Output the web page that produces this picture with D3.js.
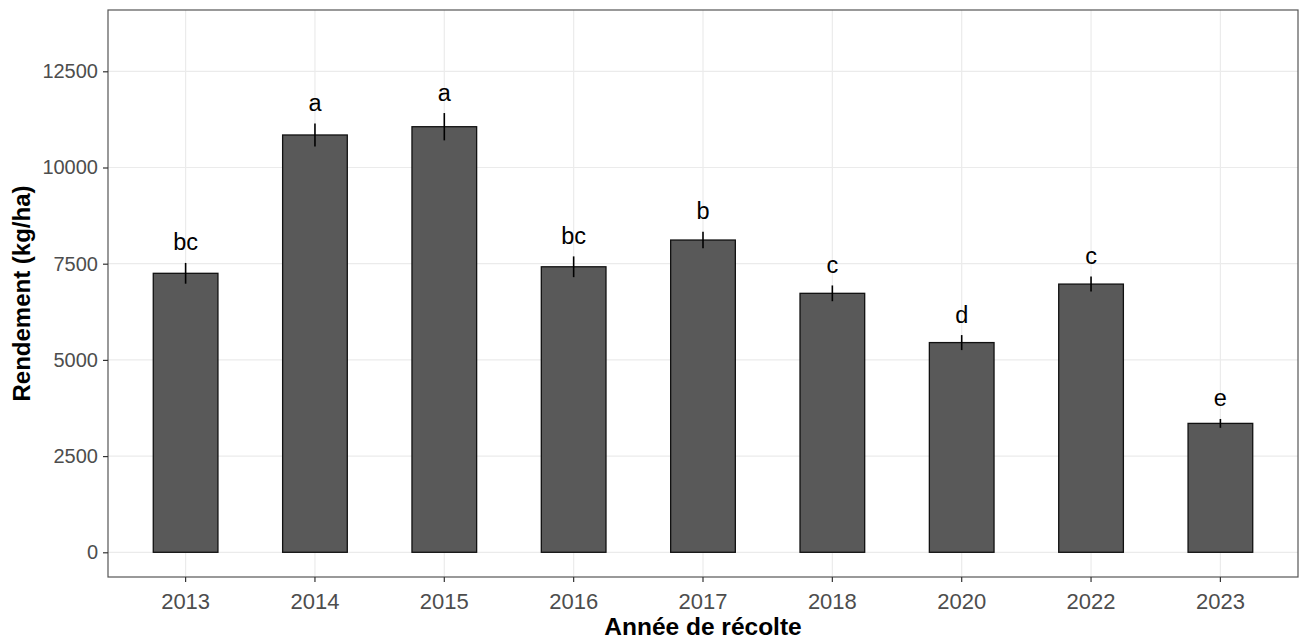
<!DOCTYPE html>
<html>
<head>
<meta charset="utf-8">
<script src="https://cdn.jsdelivr.net/npm/d3@7"></script>
<style>
  html, body { margin: 0; padding: 0; background: #fff; }
  svg { display: block; }
  text { font-family: "Liberation Sans", Arial, sans-serif; }
</style>
</head>
<body>
<svg id="chart" width="1299" height="639"></svg>
<script>
// Rendement moyen par année de récolte, avec erreur-type et groupes statistiques
const years   = ["2013", "2014", "2015", "2016", "2017", "2018", "2020", "2022", "2023"];
const means   = [7250, 10845, 11060, 7420, 8115, 6730, 5450, 6970, 3350];
const errors  = [270, 300, 355, 270, 215, 205, 195, 195, 115];
const letters = ["bc", "a", "a", "bc", "b", "c", "d", "c", "e"];
const yTicks  = [0, 2500, 5000, 7500, 10000, 12500];

const data = years.map((y, i) => ({ year: y, mean: means[i], se: errors[i], letter: letters[i] }));

const panel = { left: 108, right: 1298, top: 10, bottom: 577 };

const svg = d3.select("#chart");

const x = d3.scaleBand()
  .domain(years)
  .range([panel.left, panel.right])
  .paddingOuter(0.1)
  .paddingInner(0);

// bar width is half the category step
const step = x.step();
const cx = d => x(d) + step / 2;
const barW = step * 0.5;

const y = d3.scaleLinear()
  .domain([-642, 14093])
  .range([panel.bottom, panel.top]);

// panel background
svg.append("rect")
  .attr("x", panel.left).attr("y", panel.top)
  .attr("width", panel.right - panel.left).attr("height", panel.bottom - panel.top)
  .attr("fill", "#fff");

// grid
const grid = svg.append("g");
grid.selectAll("line.h").data(yTicks).join("line")
  .attr("x1", panel.left).attr("x2", panel.right)
  .attr("y1", d => y(d)).attr("y2", d => y(d))
  .attr("stroke", "#ebebeb").attr("stroke-width", 1.2);
grid.selectAll("line.v").data(years).join("line")
  .attr("x1", d => cx(d)).attr("x2", d => cx(d))
  .attr("y1", panel.top).attr("y2", panel.bottom)
  .attr("stroke", "#ebebeb").attr("stroke-width", 1.2);

// bars
svg.append("g").selectAll("rect").data(data).join("rect")
  .attr("x", d => cx(d.year) - barW / 2)
  .attr("width", barW)
  .attr("y", d => y(d.mean))
  .attr("height", d => y(0) - y(d.mean))
  .attr("fill", "#595959")
  .attr("stroke", "#111")
  .attr("stroke-width", 1.3);

// error bars (no caps)
svg.append("g").selectAll("line").data(data).join("line")
  .attr("x1", d => cx(d.year)).attr("x2", d => cx(d.year))
  .attr("y1", d => y(d.mean - d.se)).attr("y2", d => y(d.mean + d.se))
  .attr("stroke", "#000").attr("stroke-width", 1.6);

// group letters
svg.append("g").selectAll("text").data(data).join("text")
  .attr("x", d => cx(d.year))
  .attr("y", d => y(d.mean + d.se) - 12.5)
  .attr("text-anchor", "middle")
  .attr("font-size", 23.5)
  .attr("fill", "#000")
  .text(d => d.letter);

// panel border
svg.append("rect")
  .attr("x", panel.left).attr("y", panel.top)
  .attr("width", panel.right - panel.left).attr("height", panel.bottom - panel.top)
  .attr("fill", "none").attr("stroke", "#555").attr("stroke-width", 1.2);

// axes
const yAxis = svg.append("g")
  .attr("transform", `translate(${panel.left},0)`)
  .call(d3.axisLeft(y).tickValues(yTicks).tickSize(5).tickPadding(5).tickFormat(d3.format("d")));
yAxis.select(".domain").remove();
yAxis.selectAll(".tick line").attr("stroke", "#333").attr("stroke-width", 1.2);
yAxis.selectAll(".tick text")
  .attr("font-size", 20).attr("fill", "#4d4d4d")
  .attr("font-family", "'Liberation Sans', Arial, sans-serif");

const xAxis = svg.append("g")
  .attr("transform", `translate(0,${panel.bottom})`)
  .call(d3.axisBottom(x).tickSize(5).tickPadding(11));
xAxis.select(".domain").remove();
xAxis.selectAll(".tick line").attr("stroke", "#333").attr("stroke-width", 1.2);
xAxis.selectAll(".tick text")
  .attr("font-size", 22).attr("fill", "#4d4d4d")
  .attr("font-family", "'Liberation Sans', Arial, sans-serif");

// axis titles
svg.append("text")
  .attr("x", (panel.left + panel.right) / 2)
  .attr("y", 635)
  .attr("text-anchor", "middle")
  .attr("font-size", 24.5).attr("font-weight", "bold")
  .text("Année de récolte");

svg.append("text")
  .attr("transform", `translate(30,${(panel.top + panel.bottom) / 2}) rotate(-90)`)
  .attr("text-anchor", "middle")
  .attr("font-size", 24).attr("font-weight", "bold")
  .text("Rendement (kg/ha)");
</script>
</body>
</html>
